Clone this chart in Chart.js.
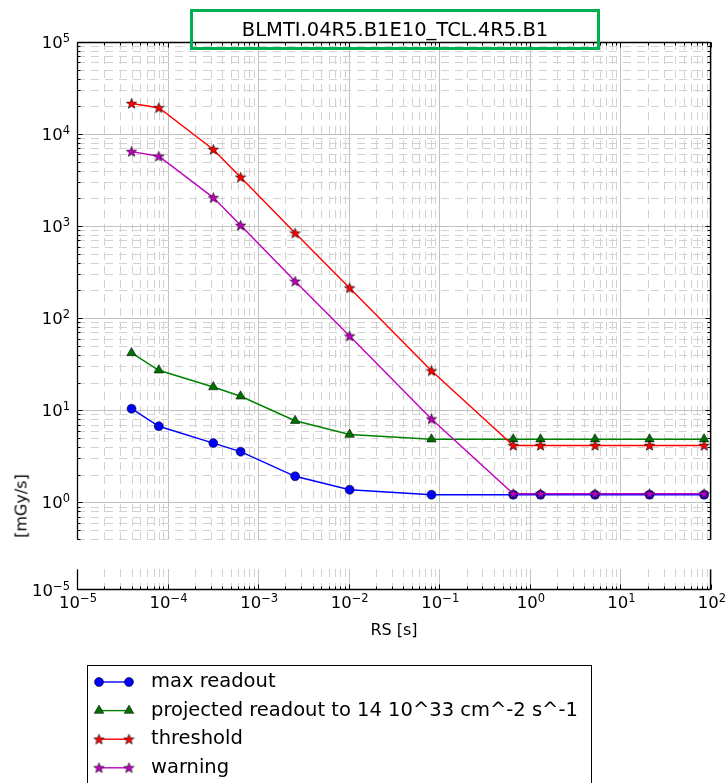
<!DOCTYPE html>
<html>
<head>
<meta charset="utf-8">
<script src="https://cdn.jsdelivr.net/npm/chart.js@4"></script>
<style>
  body { margin: 0; background: #fff; width: 726px; height: 783px; overflow: hidden; position: relative; font-family: "DejaVu Sans", sans-serif; }
  canvas { position: absolute; left: 0; top: 0; }
  #title { position: absolute; left: 190px; top: 9px; width: 410px; height: 41px; box-sizing: border-box;
           border: 3px solid #00b050; font-size: 19.5px; line-height: 35px; text-align: center; color: #000; }
  #ylabel { position: absolute; left: 21px; top: 506px; transform: translate(-50%, -50%) rotate(-90deg);
            font-size: 16px; white-space: nowrap; color: #000; }
</style>
</head>
<body>
<canvas id="upper" width="726" height="783"></canvas>
<canvas id="lower" width="726" height="783"></canvas>
<div id="title">BLMTI.04R5.B1E10_TCL.4R5.B1</div>
<div id="ylabel">[mGy/s]</div>
<script>
// running sums (RS) in seconds
const rsValues = [4e-5, 8e-5, 3.2e-4, 6.4e-4, 2.56e-3, 1.024e-2, 8.192e-2, 0.65536, 1.31072, 5.24288, 20.97152, 83.88608];

// readings in mGy/s
const maxReadout = [10.4, 6.7, 4.4, 3.55, 1.92, 1.37, 1.21, 1.21, 1.21, 1.21, 1.21, 1.21];
const projected = [42.0, 27.2, 17.9, 14.2, 7.7, 5.45, 4.85, 4.85, 4.85, 4.85, 4.85, 4.85];
const threshold = [21500, 19300, 6800, 3400, 840, 213, 26.8, 4.15, 4.15, 4.15, 4.15, 4.15];
const warning = [6450, 5750, 2040, 1020, 252, 64, 8.05, 1.24, 1.24, 1.24, 1.24, 1.24];

const seriesLabels = ['max readout', 'projected readout to 14 10^33 cm^-2 s^-1', 'threshold', 'warning'];

// axis ticks (labels are written as base^exponent and drawn with a raised exponent)
const xTickValues = [1e-5, 1e-4, 1e-3, 1e-2, 1e-1, 1e0, 1e1, 1e2];
const xTickLabels = ['10^-5', '10^-4', '10^-3', '10^-2', '10^-1', '10^0', '10^1', '10^2'];
const yTickValues = [1e0, 1e1, 1e2, 1e3, 1e4, 1e5];
const yTickLabels = ['10^0', '10^1', '10^2', '10^3', '10^4', '10^5'];
const lowerTickValues = [1e-5];
const lowerTickLabels = ['10^-5'];

const FONT = 'DejaVu Sans';

// filled star marker like matplotlib's '*'
function starMarker(fill) {
  const c = document.createElement('canvas');
  c.width = 13; c.height = 13;
  const g = c.getContext('2d');
  g.beginPath();
  for (let i = 0; i < 10; i++) {
    const r = i % 2 === 0 ? 5.4 : 2.3;
    const a = -Math.PI / 2 + i * Math.PI / 5;
    const px = 6.5 + r * Math.cos(a), py = 6.9 + r * Math.sin(a);
    if (i === 0) g.moveTo(px, py); else g.lineTo(px, py);
  }
  g.closePath();
  g.fillStyle = fill;
  g.fill();
  g.lineWidth = 0.6;
  g.strokeStyle = '#000';
  g.stroke();
  return c;
}

const styles = [
  { color: '#0000ff', fill: '#0000ff', pointStyle: 'circle', radius: 4.5 },
  { color: '#008000', fill: '#007000', pointStyle: 'triangle', radius: 5.5 },
  { color: '#ff0000', fill: '#ff0000', pointStyle: starMarker('#ff0000'), radius: 5 },
  { color: '#bf00bf', fill: '#bf00bf', pointStyle: starMarker('#bf00bf'), radius: 5 }
];

const values = [maxReadout, projected, threshold, warning];
const datasets = values.map((arr, i) => ({
  label: seriesLabels[i],
  data: rsValues.map((x, j) => ({ x: x, y: arr[j] })),
  borderColor: styles[i].color,
  borderWidth: 1.4,
  backgroundColor: styles[i].fill,
  pointStyle: styles[i].pointStyle,
  pointRadius: styles[i].radius,
  pointBackgroundColor: styles[i].fill,
  pointBorderColor: 'rgba(0,0,0,0.75)',
  pointBorderWidth: 0.7,
  tension: 0,
  order: 3 - i
}));

function logSteps(min, max) {
  const out = [];
  for (let e = Math.floor(Math.log10(min)) - 1; e <= Math.ceil(Math.log10(max)); e++) {
    for (let k = 1; k <= 9; k++) {
      const v = k * Math.pow(10, e);
      if (v >= min * 0.999 && v <= max * 1.001) out.push({ v: v, major: k === 1 });
    }
  }
  return out;
}

// "10^-5" -> 10 with a raised, smaller exponent
function drawPower(ctx, label, x, baseline, align) {
  const [base, exp] = label.split('^');
  const expText = exp.replace('-', '\u2212');
  ctx.font = '16.5px "' + FONT + '"';
  const wb = ctx.measureText(base).width;
  ctx.font = '11.5px "' + FONT + '"';
  const we = ctx.measureText(expText).width;
  const left = align === 'right' ? x - wb - we : x - (wb + we) / 2;
  ctx.fillStyle = '#000';
  ctx.textAlign = 'left';
  ctx.textBaseline = 'alphabetic';
  ctx.font = '16.5px "' + FONT + '"';
  ctx.fillText(base, left, baseline);
  ctx.font = '11.5px "' + FONT + '"';
  ctx.fillText(expText, left + wb, baseline - 6);
}

// matplotlib-like grid, spines, inward ticks and power-of-ten labels
const frame = {
  id: 'frame',
  beforeDatasetsDraw(chart, args, o) {
    const { ctx, chartArea: a, scales: { x, y } } = chart;
    ctx.save();
    ctx.lineWidth = 1;
    logSteps(x.min, x.max).forEach(s => {
      const px = Math.round(x.getPixelForValue(s.v)) + 0.5;
      ctx.strokeStyle = s.major ? '#c2c2c2' : '#d2d2d2';
      ctx.setLineDash(s.major ? [] : [8, 6]);
      ctx.beginPath(); ctx.moveTo(px, a.top); ctx.lineTo(px, a.bottom); ctx.stroke();
    });
    if (o.yGrid) {
      logSteps(y.min, y.max).forEach(s => {
        const py = Math.round(y.getPixelForValue(s.v)) + 0.5;
        ctx.strokeStyle = s.major ? '#c2c2c2' : '#d2d2d2';
        ctx.setLineDash(s.major ? [] : [8, 6]);
        ctx.beginPath(); ctx.moveTo(a.left, py); ctx.lineTo(a.right, py); ctx.stroke();
      });
    }
    ctx.restore();
  },
  afterDatasetsDraw(chart, args, o) {
    const { ctx, chartArea: a, scales: { x, y } } = chart;
    ctx.save();
    ctx.strokeStyle = '#000';
    const L = Math.round(a.left) + 0.5, R = Math.round(a.right) - 0.5;
    const T = Math.round(a.top) + 0.5, B = Math.round(a.bottom) - 0.5;
    ctx.lineWidth = 1.3;
    ctx.beginPath();
    ctx.moveTo(L, T); ctx.lineTo(L, B);
    ctx.moveTo(R, T); ctx.lineTo(R, B);
    if (o.top) { ctx.moveTo(L, T); ctx.lineTo(R, T); }
    if (o.bottom) { ctx.moveTo(L, B); ctx.lineTo(R, B); }
    ctx.stroke();
    ctx.lineWidth = 1;
    ctx.beginPath();
    logSteps(x.min, x.max).forEach(s => {
      const px = Math.round(x.getPixelForValue(s.v)) + 0.5;
      const len = s.major ? 5 : 3;
      if (o.top) { ctx.moveTo(px, T); ctx.lineTo(px, T + len); }
      if (o.bottom) { ctx.moveTo(px, B); ctx.lineTo(px, B - len); }
    });
    if (o.yGrid) {
      logSteps(y.min, y.max).forEach(s => {
        const py = Math.round(y.getPixelForValue(s.v)) + 0.5;
        const len = s.major ? 5 : 3;
        ctx.moveTo(L, py); ctx.lineTo(L + len, py);
        ctx.moveTo(R, py); ctx.lineTo(R - len, py);
      });
    }
    ctx.stroke();
    // tick labels
    o.yTicks.forEach((v, i) => drawPower(ctx, o.yLabels[i], 70, y.getPixelForValue(v) + 6, 'right'));
    if (o.xTicks) {
      o.xTicks.forEach((v, i) => drawPower(ctx, o.xLabels[i], x.getPixelForValue(v) + 1, 608, 'center'));
    }
    ctx.restore();
  }
};

// legend box below the plot, cut by the bottom edge like the original
const legendBox = {
  id: 'legendBox',
  afterDraw(chart) {
    const ctx = chart.ctx;
    ctx.save();
    ctx.fillStyle = '#fff';
    ctx.fillRect(87.5, 665.5, 504, 140);
    ctx.strokeStyle = '#000';
    ctx.lineWidth = 1;
    ctx.strokeRect(87.5, 665.5, 504, 140);
    datasets.forEach((d, i) => {
      const cy = 682 + i * 28.6;
      ctx.strokeStyle = d.borderColor;
      ctx.lineWidth = d.borderWidth;
      ctx.beginPath(); ctx.moveTo(99, cy); ctx.lineTo(129, cy); ctx.stroke();
      [99, 129].forEach(px => {
        ctx.fillStyle = d.pointBackgroundColor;
        ctx.strokeStyle = d.pointBorderColor;
        ctx.lineWidth = d.pointBorderWidth;
        Chart.helpers.drawPoint(ctx, { pointStyle: d.pointStyle, radius: d.pointRadius, rotation: 0, borderWidth: d.pointBorderWidth }, px, cy);
      });
      ctx.fillStyle = '#000';
      ctx.font = '19.5px "' + FONT + '"';
      ctx.textBaseline = 'middle';
      ctx.fillText(d.label, 151, cy);
    });
    ctx.restore();
  }
};

new Chart(document.getElementById('upper'), {
  type: 'line',
  data: { datasets: datasets },
  plugins: [frame],
  options: {
    responsive: false,
    animation: false,
    events: [],
    layout: { padding: { left: 0, top: 42, right: 15, bottom: 243 } },
    plugins: {
      legend: { display: false }, tooltip: { enabled: false },
      frame: { yGrid: true, top: true, bottom: false, yTicks: yTickValues, yLabels: yTickLabels }
    },
    scales: {
      x: { type: 'logarithmic', min: 1e-5, max: 100, display: false },
      y: {
        type: 'logarithmic', min: 0.39, max: 1e5,
        afterFit(s) { s.width = 77; },
        grid: { display: false, drawTicks: false },
        border: { display: false },
        ticks: { display: false }
      }
    }
  }
});

new Chart(document.getElementById('lower'), {
  type: 'line',
  data: { datasets: [] },
  plugins: [frame, legendBox],
  options: {
    responsive: false,
    animation: false,
    events: [],
    layout: { padding: { left: 0, top: 569, right: 15, bottom: 143 } },
    plugins: {
      legend: { display: false }, tooltip: { enabled: false },
      frame: { yGrid: false, top: false, bottom: true, yTicks: lowerTickValues, yLabels: lowerTickLabels,
               xTicks: xTickValues, xLabels: xTickLabels }
    },
    scales: {
      x: {
        type: 'logarithmic', min: 1e-5, max: 100,
        afterFit(s) { s.height = 50; },
        grid: { display: false, drawTicks: false },
        border: { display: false },
        ticks: { display: false },
        title: { display: true, text: 'RS [s]', color: '#000', font: { family: FONT, size: 16 }, padding: { top: 0, bottom: 0 } }
      },
      y: {
        type: 'logarithmic', min: 1e-5, max: 1.9e-5,
        afterFit(s) { s.width = 77; },
        grid: { display: false, drawTicks: false },
        border: { display: false },
        ticks: { display: false }
      }
    }
  }
});
</script>
</body>
</html>
